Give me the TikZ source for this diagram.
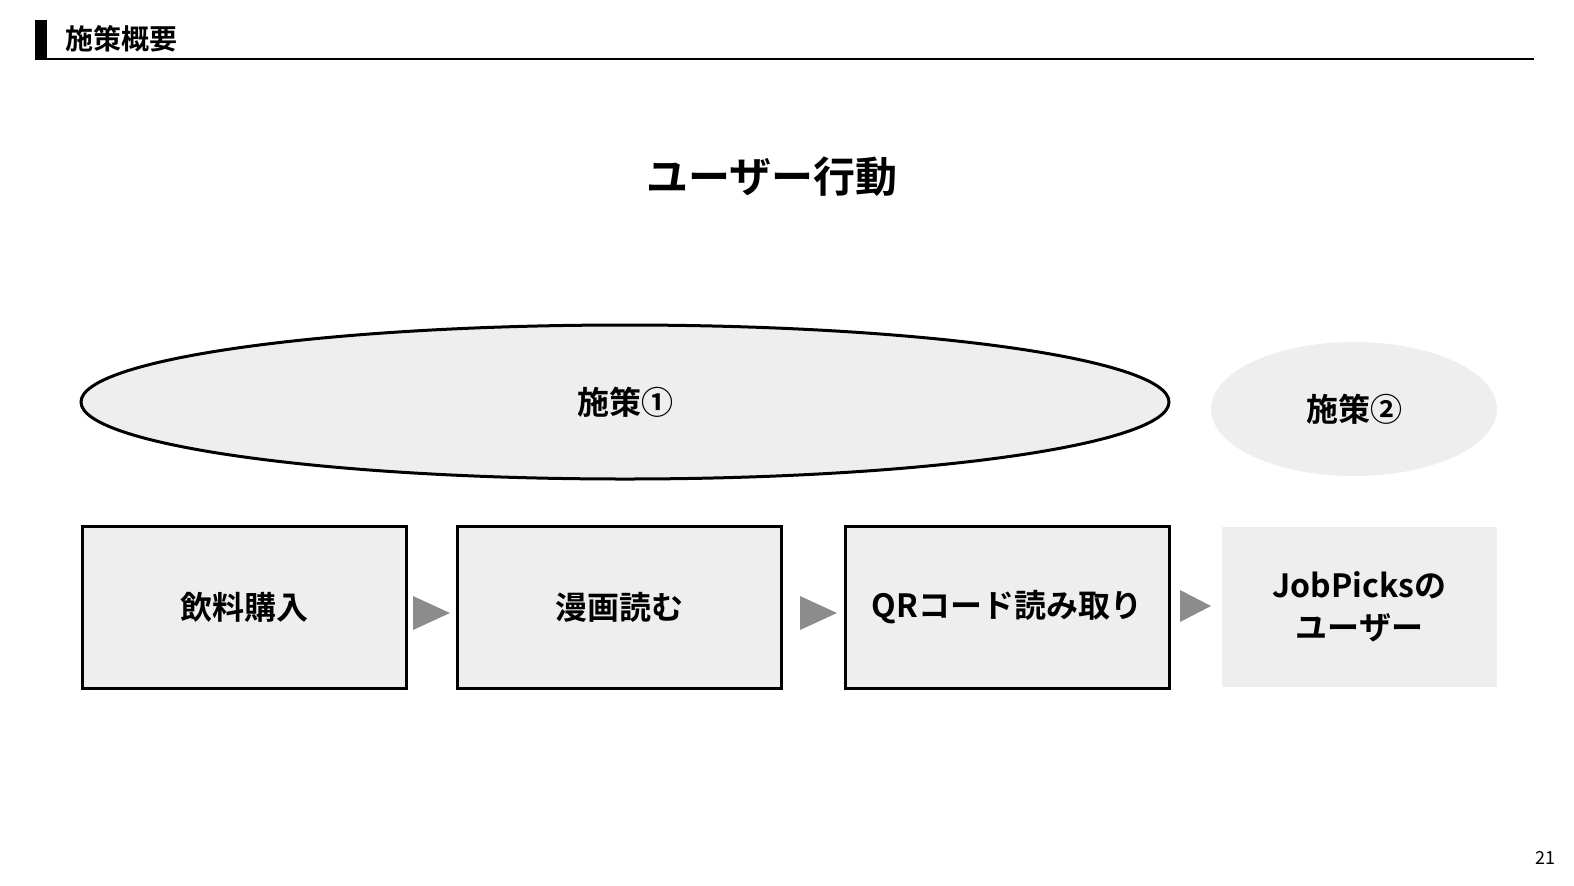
\documentclass[tikz,border=0pt]{standalone}
\usepackage{fontspec}
\setmainfont{Noto Sans CJK JP}
\newfontfamily\jpb{Noto Sans CJK JP Bold}
\usetikzlibrary{shapes.geometric}
\definecolor{lg}{HTML}{EEEEEE}
\definecolor{ag}{HTML}{8C8C8C}
\begin{document}
\begin{tikzpicture}[x=0.5pt,y=-0.5pt,
  stepbox/.style={draw=black,line width=1.5pt,fill=lg,minimum width=162pt,minimum height=81pt,font=\jpb\fontsize{16}{19}\selectfont,inner sep=0pt},
  tri/.style={fill=ag}]
\useasboundingbox (0,0) rectangle (1574,885);
\fill (35,20) rectangle (47,58);
\node[anchor=west,font=\jpb\fontsize{14}{16}\selectfont] (hd) at (58,39) {施策概要};
\draw[line width=0.7pt] (35,59) -- (1534,59);
\node[font=\jpb\fontsize{21}{25}\selectfont] (title) at (772,177) {ユーザー行動};
\node[ellipse,draw,line width=1.5pt,fill=lg,minimum width=544pt,minimum height=77pt,font=\jpb\fontsize{16}{19}\selectfont] (e1) at (625,402) {施策①};
\node[ellipse,fill=lg,minimum width=143pt,minimum height=67pt,font=\jpb\fontsize{16}{19}\selectfont] (e2) at (1354,409) {施策②};
\node[stepbox] (b1) at (244,607) {飲料購入};
\node[stepbox] (b2) at (619.5,607) {漫画読む};
\node[stepbox] (b3) at (1007,607) {QRコード読み取り};
\node[stepbox,draw=none,fill=lg,minimum width=137.5pt,minimum height=80pt,align=center,font=\jpb\fontsize{16}{21}\selectfont] (b4) at (1359.5,607) {JobPicksの\\ユーザー};
\fill[tri] (413,596) -- (450,613) -- (413,630) -- cycle;
\fill[tri] (800,596) -- (837,613) -- (800,630) -- cycle;
\fill[tri] (1180,590) -- (1211,606) -- (1180,622) -- cycle;
\node[font=\fontsize{9}{11}\selectfont] (pg) at (1545,858) {21};
\end{tikzpicture}
\end{document}
